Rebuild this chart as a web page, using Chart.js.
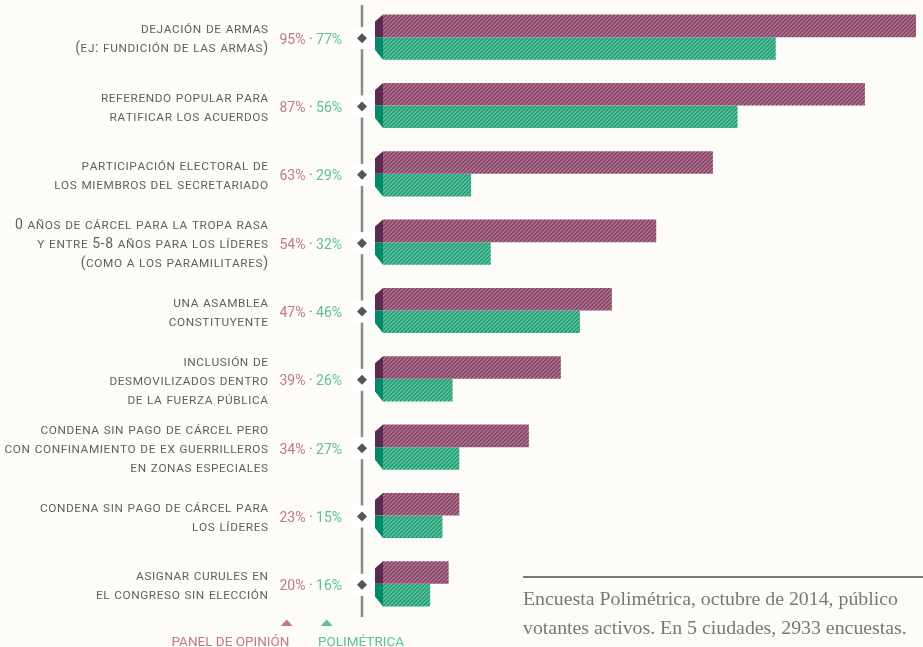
<!DOCTYPE html>
<html><head><meta charset="utf-8">
<script src="https://cdn.jsdelivr.net/npm/chart.js@4/dist/chart.umd.min.js"></script>
<style>
html,body{margin:0;padding:0;background:#fdfcf8;overflow:hidden;}
#wrap{position:relative;width:923px;height:647px;}
</style></head><body>
<div id="wrap"><canvas id="c" width="923" height="647"></canvas></div>
<script>
// ---- data ----
const categories = [
  ["dejación de armas", "(ej: fundición de las armas)"],
  ["referendo popular para", "ratificar los acuerdos"],
  ["participación electoral de", "los miembros del secretariado"],
  ["0 años de cárcel para la tropa rasa", "y entre 5-8 años para los líderes", "(como a los paramilitares)"],
  ["una asamblea", "constituyente"],
  ["inclusión de", "desmovilizados dentro", "de la fuerza pública"],
  ["condena sin pago de cárcel pero", "con confinamiento de ex guerrilleros", "en zonas especiales"],
  ["condena sin pago de cárcel para", "los líderes"],
  ["asignar curules en", "el congreso sin elección"]
];
const seriesNames = ["Panel de opinión", "Polimétrica"];
// percentages printed next to each item
const panelPct = [95, 87, 63, 54, 47, 39, 34, 23, 20];
const polimetricaPct = [77, 56, 29, 32, 46, 26, 27, 15, 16];
// bar lengths as drawn in the picture (same units as the 95% bar)
const panelBar = [95, 85.9, 58.8, 48.7, 40.8, 31.7, 26.0, 13.6, 11.7];
const polimetricaBar = [70.0, 63.2, 15.7, 19.2, 35.1, 12.4, 13.6, 10.6, 8.4];
const caption = [
  "Encuesta Polimétrica, octubre de 2014, público",
  "votantes activos. En 5 ciudades, 2933 encuestas."
];

// ---- styles ----
const BG = "#fdfcf8";
const LABEL = "#5f5f5f";
const PURPLE_TXT = "#c27690";
const TEAL_TXT = "#5cc09a";
const SANS = "Roboto, 'Liberation Sans', sans-serif";

const canvas = document.getElementById("c");
const ctx0 = canvas.getContext("2d");
function hatch(light, mid, dark) {
  const c = document.createElement("canvas");
  c.width = 4; c.height = 4;
  const x = c.getContext("2d");
  for (let i = 0; i < 4; i++) for (let j = 0; j < 4; j++) {
    const k = (i + j) % 4;
    x.fillStyle = k === 0 ? dark : (k === 1 ? mid : light);
    x.fillRect(i, j, 1, 1);
  }
  return ctx0.createPattern(c, "repeat");
}
const purpleFill = hatch("#ae6e8a", "#96587a", "#74395c");
const tealFill = hatch("#56be9a", "#38a883", "#17926e");
const bevelColors = ["#5c2a4e", "#008a68"];

function drawSmallCaps(ctx, text, xRight, baseline, big, small, spacing) {
  const parts = [];
  let total = 0;
  for (const ch of text) {
    const isLower = ch !== ch.toUpperCase();
    const size = isLower ? small : big;
    const g = isLower ? ch.toUpperCase() : ch;
    ctx.font = size + "px " + SANS;
    const w = ctx.measureText(g).width;
    parts.push({g, size, w});
    total += w;
  }
  total += spacing * (parts.length - 1);
  let x = xRight - total;
  ctx.textAlign = "left";
  ctx.textBaseline = "alphabetic";
  for (const p of parts) {
    ctx.font = p.size + "px " + SANS;
    ctx.fillText(p.g, x, baseline);
    x += p.w + spacing;
  }
}

const deco = {
  id: "deco",
  beforeDraw(chart) {
    const c = chart.ctx;
    c.save(); c.fillStyle = BG; c.fillRect(0, 0, chart.width, chart.height); c.restore();
  },
  afterDatasetsDraw(chart) {
    const c = chart.ctx;
    const area = chart.chartArea;
    const yScale = chart.scales.y;
    c.save();
    // bevels at the start of each bar
    chart.data.datasets.forEach((ds, di) => {
      const meta = chart.getDatasetMeta(di);
      c.fillStyle = bevelColors[di];
      meta.data.forEach(bar => {
        const p = bar.getProps(["x", "y", "base", "height"], true);
        const top = p.y - p.height / 2, bot = p.y + p.height / 2, b = p.base, d = 8;
        c.beginPath();
        if (di === 0) {
          c.moveTo(b, top); c.lineTo(b, bot); c.lineTo(b - d, bot); c.lineTo(b - d, top + 7);
        } else {
          c.moveTo(b, top); c.lineTo(b, bot); c.lineTo(b - d, bot - 10); c.lineTo(b - d, top);
        }
        c.closePath(); c.fill();
      });
    });
    // vertical axis line
    const ax = area.left - 21;
    c.strokeStyle = "#8a8a8a"; c.lineWidth = 2.5;
    c.beginPath(); c.moveTo(ax, area.top + 2); c.lineTo(ax, area.bottom - 1); c.stroke();
    categories.forEach((lines, i) => {
      const cy = yScale.getPixelForValue(i);
      // white box + diamond
      c.fillStyle = "#ffffff";
      c.fillRect(ax - 10, cy - 10, 22, 22);
      c.fillStyle = "#555555";
      c.beginPath();
      c.moveTo(ax, cy - 4); c.lineTo(ax + 5, cy + 1); c.lineTo(ax, cy + 6); c.lineTo(ax - 5, cy + 1);
      c.closePath(); c.fill();
      // category labels
      c.fillStyle = LABEL;
      const lh = 19;
      const start = cy + 1.5 - (lines.length - 1) * lh / 2;
      lines.forEach((ln, k) => {
        drawSmallCaps(c, ln, area.left - 115, start + k * lh + 4.2, 14, 11.8, 0.6);
      });
      // percentages
      c.font = "14px " + SANS;
      c.textBaseline = "alphabetic";
      c.textAlign = "right";
      const base = cy + 1.5 + 5;
      let xr = area.left - 41;
      const t2 = polimetricaPct[i] + "%";
      c.fillStyle = TEAL_TXT; c.fillText(t2, xr, base);
      xr -= c.measureText(t2).width;
      const dot = " · ";
      c.fillStyle = "#777777"; c.fillText(dot, xr, base);
      xr -= c.measureText(dot).width;
      c.fillStyle = PURPLE_TXT; c.fillText(panelPct[i] + "%", xr, base);
    });
    // legend
    const legY = 646.3;
    const tri = [[286.7, PURPLE_TXT], [326.7, TEAL_TXT]];
    tri.forEach(([tx, col]) => {
      c.fillStyle = col;
      c.beginPath(); c.moveTo(tx - 6, 626); c.lineTo(tx + 6, 626); c.lineTo(tx, 619.5); c.closePath(); c.fill();
    });
    c.font = "13.5px " + SANS;
    c.textAlign = "left";
    c.fillStyle = PURPLE_TXT; c.fillText(seriesNames[0].toUpperCase(), 171.5, legY);
    c.fillStyle = TEAL_TXT; c.fillText(seriesNames[1].toUpperCase(), 318, legY);
    // note
    c.strokeStyle = "#7a7a7a"; c.lineWidth = 2;
    c.beginPath(); c.moveTo(523, 577); c.lineTo(923, 577); c.stroke();
    c.font = "100px 'Liberation Serif', serif";
    const fs = 100 * 375 / c.measureText(caption[0]).width;
    c.font = fs.toFixed(2) + "px 'Liberation Serif', serif";
    c.fillStyle = "#777777";
    c.fillText(caption[0], 523, 605);
    c.fillText(caption[1], 523, 633.5);
    c.restore();
  }
};

new Chart(canvas, {
  type: "bar",
  data: {
    labels: categories.map(l => l.join(" ")),
    datasets: [
      { label: seriesNames[0], data: panelBar, backgroundColor: purpleFill, borderWidth: 0,
        categoryPercentage: 0.66, barPercentage: 1 },
      { label: seriesNames[1], data: polimetricaBar, backgroundColor: tealFill, borderWidth: 0,
        categoryPercentage: 0.66, barPercentage: 1 }
    ]
  },
  options: {
    indexAxis: "y",
    responsive: false,
    animation: false,
    layout: { padding: { left: 383, right: 0, top: 3, bottom: 29 } },
    scales: {
      x: { display: false, min: 0, max: 96.25 },
      y: { display: false }
    },
    plugins: { legend: { display: false }, tooltip: { enabled: false } }
  },
  plugins: [deco]
});
</script>
</body></html>
